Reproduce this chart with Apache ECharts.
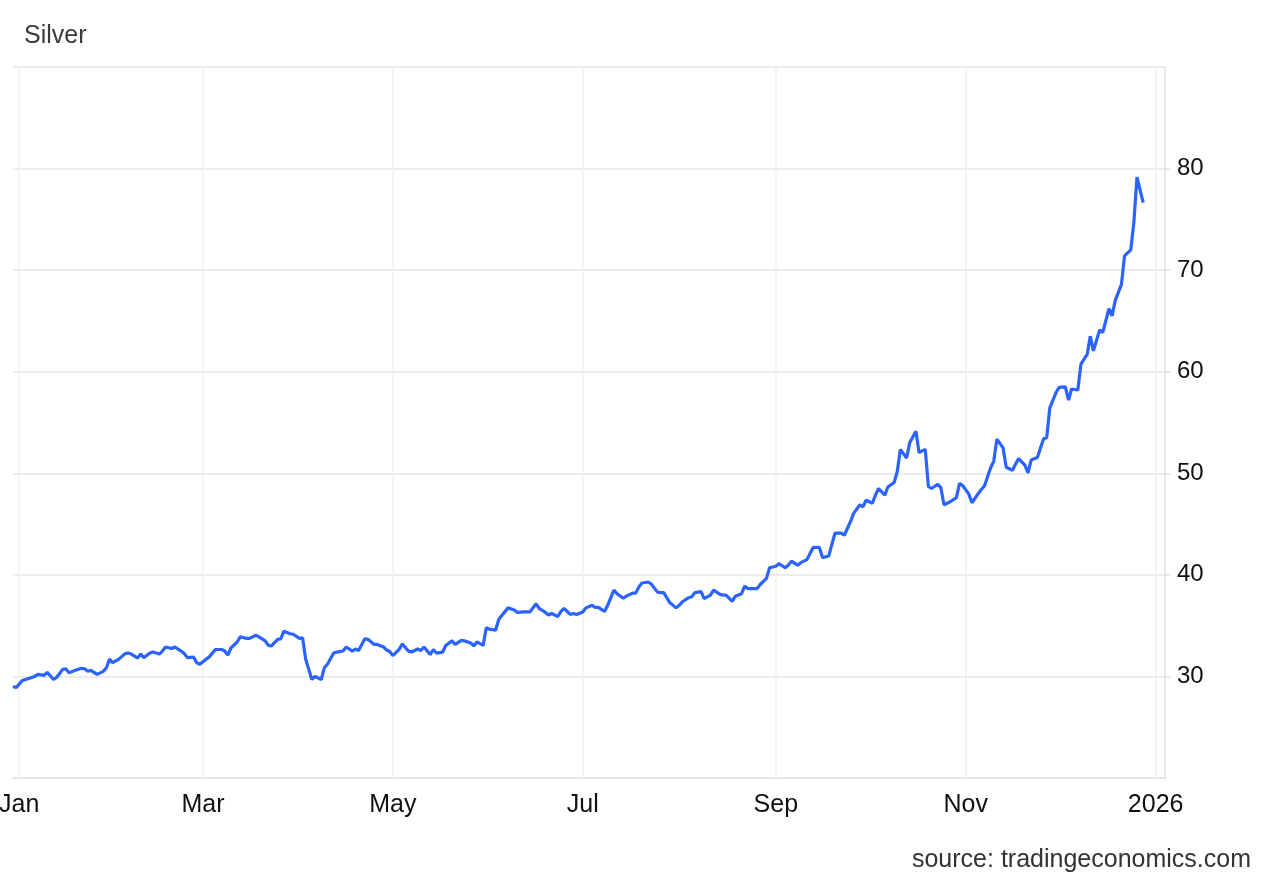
<!DOCTYPE html>
<html>
<head>
<meta charset="utf-8">
<title>Silver</title>
<script src="https://cdn.jsdelivr.net/npm/echarts@6/dist/echarts.min.js"></script>
<style>
  html, body { margin: 0; padding: 0; background: #fff; }
  #chart { width: 1269px; height: 880px; }
</style>
</head>
<body>
<div id="chart"></div>
<script>
// silver price
var dates = [
  "2024-12-30", "2024-12-31", "2025-01-02", "2025-01-03", "2025-01-06", "2025-01-07",
  "2025-01-09", "2025-01-10", "2025-01-12", "2025-01-13", "2025-01-15", "2025-01-16",
  "2025-01-17", "2025-01-19", "2025-01-21", "2025-01-22", "2025-01-23", "2025-01-24",
  "2025-01-26", "2025-01-28", "2025-01-29", "2025-01-30", "2025-01-31", "2025-02-02",
  "2025-02-04", "2025-02-05", "2025-02-06", "2025-02-08", "2025-02-09", "2025-02-10",
  "2025-02-12", "2025-02-13", "2025-02-15", "2025-02-16", "2025-02-17", "2025-02-19",
  "2025-02-20", "2025-02-22", "2025-02-23", "2025-02-24", "2025-02-26", "2025-02-27",
  "2025-02-28", "2025-03-02", "2025-03-03", "2025-03-05", "2025-03-07", "2025-03-08",
  "2025-03-09", "2025-03-10", "2025-03-12", "2025-03-13", "2025-03-15", "2025-03-16",
  "2025-03-18", "2025-03-19", "2025-03-21", "2025-03-22", "2025-03-23", "2025-03-25",
  "2025-03-26", "2025-03-27", "2025-03-29", "2025-03-30", "2025-04-01", "2025-04-02",
  "2025-04-03", "2025-04-05", "2025-04-06", "2025-04-08", "2025-04-09", "2025-04-10",
  "2025-04-12", "2025-04-13", "2025-04-15", "2025-04-16", "2025-04-18", "2025-04-19",
  "2025-04-20", "2025-04-22", "2025-04-23", "2025-04-25", "2025-04-26", "2025-04-28",
  "2025-04-29", "2025-04-30", "2025-05-01", "2025-05-03", "2025-05-04", "2025-05-06",
  "2025-05-07", "2025-05-09", "2025-05-10", "2025-05-11", "2025-05-13", "2025-05-14",
  "2025-05-15", "2025-05-17", "2025-05-18", "2025-05-20", "2025-05-21", "2025-05-23",
  "2025-05-24", "2025-05-26", "2025-05-27", "2025-05-28", "2025-05-30", "2025-05-31",
  "2025-06-01", "2025-06-03", "2025-06-04", "2025-06-05", "2025-06-07", "2025-06-09",
  "2025-06-10", "2025-06-12", "2025-06-14", "2025-06-16", "2025-06-17", "2025-06-19",
  "2025-06-20", "2025-06-21", "2025-06-23", "2025-06-24", "2025-06-25", "2025-06-27",
  "2025-06-28", "2025-06-29", "2025-07-01", "2025-07-02", "2025-07-04", "2025-07-05",
  "2025-07-06", "2025-07-08", "2025-07-09", "2025-07-11", "2025-07-12", "2025-07-14",
  "2025-07-15", "2025-07-17", "2025-07-18", "2025-07-19", "2025-07-20", "2025-07-22",
  "2025-07-23", "2025-07-25", "2025-07-26", "2025-07-27", "2025-07-29", "2025-07-31",
  "2025-08-01", "2025-08-02", "2025-08-04", "2025-08-05", "2025-08-06", "2025-08-08",
  "2025-08-09", "2025-08-11", "2025-08-12", "2025-08-14", "2025-08-15", "2025-08-16",
  "2025-08-18", "2025-08-19", "2025-08-21", "2025-08-22", "2025-08-23", "2025-08-25",
  "2025-08-26", "2025-08-27", "2025-08-29", "2025-08-30", "2025-09-01", "2025-09-02",
  "2025-09-04", "2025-09-05", "2025-09-06", "2025-09-08", "2025-09-09", "2025-09-11",
  "2025-09-12", "2025-09-13", "2025-09-15", "2025-09-16", "2025-09-18", "2025-09-19",
  "2025-09-20", "2025-09-22", "2025-09-23", "2025-09-25", "2025-09-26", "2025-09-28",
  "2025-09-29", "2025-09-30", "2025-10-02", "2025-10-03", "2025-10-04", "2025-10-06",
  "2025-10-07", "2025-10-09", "2025-10-10", "2025-10-11", "2025-10-13", "2025-10-14",
  "2025-10-16", "2025-10-17", "2025-10-19", "2025-10-20", "2025-10-21", "2025-10-23",
  "2025-10-24", "2025-10-25", "2025-10-27", "2025-10-29", "2025-10-30", "2025-10-31",
  "2025-11-02", "2025-11-03", "2025-11-05", "2025-11-06", "2025-11-07", "2025-11-09",
  "2025-11-10", "2025-11-11", "2025-11-13", "2025-11-14", "2025-11-16", "2025-11-17",
  "2025-11-18", "2025-11-20", "2025-11-21", "2025-11-22", "2025-11-24", "2025-11-26",
  "2025-11-27", "2025-11-28", "2025-11-30", "2025-12-01", "2025-12-03", "2025-12-04",
  "2025-12-05", "2025-12-07", "2025-12-08", "2025-12-10", "2025-12-11", "2025-12-12",
  "2025-12-14", "2025-12-15", "2025-12-17", "2025-12-18", "2025-12-19", "2025-12-21",
  "2025-12-22", "2025-12-24", "2025-12-25", "2025-12-26", "2025-12-28"
];

var prices = [
  29.0, 28.9, 29.6, 29.7, 30.0, 30.2,
  30.1, 30.4, 29.7, 29.9, 30.7, 30.75,
  30.35, 30.6, 30.8, 30.75, 30.5, 30.6,
  30.2, 30.5, 30.85, 31.7, 31.35, 31.7,
  32.25, 32.3, 32.2, 31.8, 32.2, 31.85,
  32.3, 32.4, 32.2, 32.5, 32.9, 32.75,
  32.9, 32.5, 32.25, 31.85, 31.9, 31.35,
  31.2, 31.7, 31.9, 32.65, 32.65, 32.5,
  32.1, 32.8, 33.4, 33.9, 33.75, 33.75,
  34.05, 33.9, 33.5, 33.05, 33.0, 33.65,
  33.7, 34.45, 34.2, 34.15, 33.75, 33.8,
  31.7, 29.7, 30.0, 29.7, 30.85, 31.2,
  32.3, 32.4, 32.5, 32.9, 32.5, 32.7,
  32.55, 33.7, 33.65, 33.15, 33.15, 32.9,
  32.6, 32.45, 32.05, 32.65, 33.2, 32.5,
  32.4, 32.7, 32.55, 32.9, 32.15, 32.65,
  32.3, 32.4, 33.05, 33.5, 33.15, 33.55,
  33.5, 33.3, 33.0, 33.4, 33.05, 34.8,
  34.65, 34.55, 35.6, 36.0, 36.75, 36.55,
  36.3, 36.35, 36.35, 37.15, 36.7, 36.3,
  36.05, 36.2, 35.9, 36.4, 36.7, 36.1,
  36.2, 36.1, 36.35, 36.75, 37.0, 36.8,
  36.8, 36.4, 37.0, 38.5, 38.15, 37.7,
  37.9, 38.2, 38.2, 38.8, 39.2, 39.3,
  39.1, 38.3, 38.25, 38.25, 37.25, 36.75,
  37.0, 37.35, 37.75, 37.85, 38.25, 38.35,
  37.65, 38.0, 38.5, 38.1, 38.0, 38.0,
  37.4, 37.9, 38.15, 38.9, 38.65, 38.65,
  38.65, 39.05, 39.65, 40.7, 40.85, 41.1,
  40.7, 40.95, 41.35, 40.95, 41.2, 41.5,
  42.1, 42.7, 42.7, 41.7, 41.85, 43.0,
  44.1, 44.1, 43.9, 45.25, 46.05, 46.9,
  46.7, 47.35, 47.05, 47.85, 48.5, 47.85,
  48.65, 49.1, 50.15, 52.35, 51.5, 53.0,
  54.15, 52.05, 52.35, 48.7, 48.5, 48.9,
  48.6, 46.9, 47.2, 47.6, 49.0, 48.8,
  47.95, 47.1, 48.0, 48.4, 48.75, 50.55,
  51.2, 53.35, 52.5, 50.6, 50.3, 50.9,
  51.45, 50.8, 50.05, 51.3, 51.55, 53.4,
  53.5, 56.45, 57.95, 58.45, 58.5, 57.2,
  58.3, 58.2, 60.75, 61.7, 63.5, 62.05,
  64.1, 63.85, 66.2, 65.5, 67.0, 68.6,
  71.4, 72.0, 74.7, 79.15, 76.65
];

var monthNames = ["Jan", "Feb", "Mar", "Apr", "May", "Jun", "Jul", "Aug", "Sep", "Oct", "Nov", "Dec"];
var yTicks = [30, 40, 50, 60, 70, 80];

var seriesData = dates.map(function(d, i) {
  return [d, prices[i]];
});

var chart = echarts.init(document.getElementById("chart"));
var DAY = 24 * 3600 * 1000;

chart.setOption({
  animation: false,
  textStyle: { fontFamily: "Liberation Sans, Arial, sans-serif" },
  title: [
    {
      text: "Silver",
      left: 19,
      top: 19,
      textStyle: { fontSize: 25, fontWeight: "normal", color: "#3a3a3a" }
    },
    {
      text: "source: tradingeconomics.com",
      right: 13,
      top: 843,
      textStyle: { fontSize: 25, fontWeight: "normal", color: "#333" }
    }
  ],
  grid: {
    left: 13,
    right: 104,
    top: 67,
    bottom: 102,
    outerBoundsMode: "none"
  },
  xAxis: {
    type: "time",
    min: "2024-12-30",
    max: "2026-01-04",
    minInterval: 61 * DAY,
    maxInterval: 61 * DAY,
    axisLine: { show: true, lineStyle: { color: "#e3e3e3", width: 1.5 } },
    axisTick: { show: false },
    splitLine: {
      show: true,
      showMinLine: false,
      showMaxLine: false,
      lineStyle: { color: "#eef1f5", width: 1.5 }
    },
    axisLabel: {
      fontSize: 25,
      color: "#111",
      margin: 15,
      hideOverlap: false,
      formatter: function(value) {
        var d = new Date(value);
        if (d.getDate() !== 1) return "";
        if (d.getMonth() === 0 && d.getFullYear() === 2026) return "2026";
        return monthNames[d.getMonth()];
      }
    }
  },
  yAxis: {
    type: "value",
    position: "right",
    min: 20,
    max: 90,
    interval: 10,
    axisLine: { show: true, lineStyle: { color: "#e3e3e3", width: 1.5 } },
    axisTick: { show: true, length: 6, lineStyle: { color: "#e3e3e3", width: 1.5 } },
    splitLine: { show: true, lineStyle: { color: "#e6e6e6", width: 1.5 } },
    axisLabel: {
      fontSize: 24,
      color: "#111",
      margin: 12,
      showMinLabel: false,
      showMaxLabel: false,
      formatter: function(v) {
        return yTicks.indexOf(v) >= 0 ? String(v) : "";
      }
    }
  },
  series: [
    {
      name: "Silver",
      type: "line",
      data: seriesData,
      showSymbol: false,
      symbol: "none",
      lineStyle: { color: "#2b63ff", width: 3.2 },
      itemStyle: { color: "#2b63ff" }
    }
  ]
});

window.addEventListener("resize", function() {
  chart.resize();
});
</script>
</body>
</html>
